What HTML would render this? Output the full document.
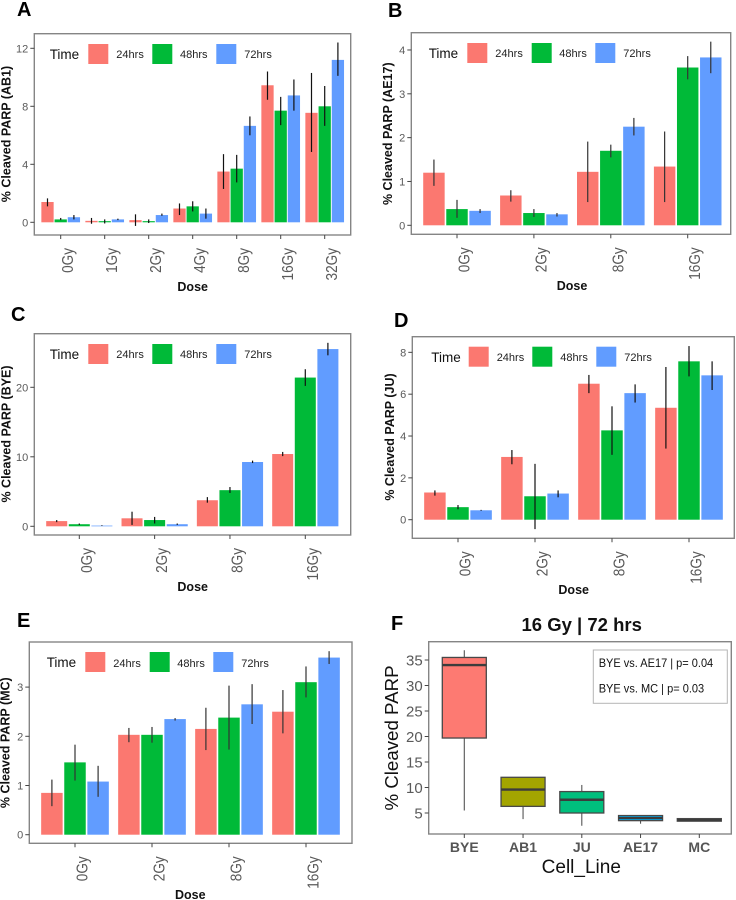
<!DOCTYPE html>
<html lang="en">
<head>
<meta charset="utf-8">
<title>Cleaved PARP by dose and time</title>
<style>
html,body{margin:0;padding:0;background:#fff}
svg{display:block}
text{font-family:"Liberation Sans",sans-serif}
.frame{fill:none;stroke:#858585;stroke-width:1.4}
.letter{font-size:20px;font-weight:700;fill:#000}
.ytitle,.xtitle{font-size:12.5px;font-weight:700;fill:#111}
.time{font-size:13.5px;fill:#111}
.lab{font-size:11px;fill:#222}
.note{font-size:12px;fill:#111}
</style>
</head>
<body>
<svg id="chart" xmlns="http://www.w3.org/2000/svg" width="736" height="900" viewBox="0 0 736 900">
  <rect width="736" height="900" fill="#fff"/>

  <g>
    <text class="letter" x="17" y="16">A</text>
    <rect class="frame" x="34.3" y="33.7" width="316.4" height="201.3"/>
    <text class="ytitle" text-anchor="middle" transform="translate(10.5,134) rotate(-90)">% Cleaved PARP (AB1)</text>
    <text class="xtitle" text-anchor="middle" x="192.7" y="291">Dose</text>
    <text class="time" x="49.7" y="59">Time</text>
    <rect x="88.3" y="44" width="20" height="20" fill="#FB7870"/>
    <text class="lab" x="116.3" y="58">24hrs</text>
    <rect x="152.3" y="44" width="20" height="20" fill="#00BA38"/>
    <text class="lab" x="180" y="58">48hrs</text>
    <rect x="216.3" y="44" width="20" height="20" fill="#619CFF"/>
    <text class="lab" x="244.3" y="58">72hrs</text>
  </g>

  <g>
    <text class="letter" x="388" y="17">B</text>
    <rect class="frame" x="411.3" y="32.7" width="319.4" height="201.6"/>
    <text class="ytitle" text-anchor="middle" transform="translate(392,133.7) rotate(-90)">% Cleaved PARP (AE17)</text>
    <text class="xtitle" text-anchor="middle" x="572" y="290">Dose</text>
    <text class="time" x="428.7" y="58">Time</text>
    <rect x="467.3" y="43" width="20" height="20" fill="#FB7870"/>
    <text class="lab" x="495.3" y="57">24hrs</text>
    <rect x="531.7" y="43" width="20" height="20" fill="#00BA38"/>
    <text class="lab" x="559.3" y="57">48hrs</text>
    <rect x="595.3" y="43" width="20" height="20" fill="#619CFF"/>
    <text class="lab" x="623.3" y="57">72hrs</text>
  </g>

  <g>
    <text class="letter" x="11" y="321">C</text>
    <rect class="frame" x="34.3" y="333.7" width="316.4" height="201.3"/>
    <text class="ytitle" text-anchor="middle" transform="translate(10.5,434) rotate(-90)">% Cleaved PARP (BYE)</text>
    <text class="xtitle" text-anchor="middle" x="192.7" y="591">Dose</text>
    <text class="time" x="49.7" y="359">Time</text>
    <rect x="88.3" y="344" width="20" height="20" fill="#FB7870"/>
    <text class="lab" x="116.3" y="358">24hrs</text>
    <rect x="152.3" y="344" width="20" height="20" fill="#00BA38"/>
    <text class="lab" x="180" y="358">48hrs</text>
    <rect x="216.3" y="344" width="20" height="20" fill="#619CFF"/>
    <text class="lab" x="244.3" y="358">72hrs</text>
  </g>

  <g>
    <text class="letter" x="394" y="327">D</text>
    <rect class="frame" x="412.3" y="336.7" width="322" height="201.6"/>
    <text class="ytitle" text-anchor="middle" transform="translate(394,437) rotate(-90)">% Cleaved PARP (JU)</text>
    <text class="xtitle" text-anchor="middle" x="573.7" y="594">Dose</text>
    <text class="time" x="431.3" y="362">Time</text>
    <rect x="468.7" y="346.7" width="20" height="20" fill="#FB7870"/>
    <text class="lab" x="496.7" y="361">24hrs</text>
    <rect x="532.3" y="346.7" width="20" height="20" fill="#00BA38"/>
    <text class="lab" x="560.3" y="361">48hrs</text>
    <rect x="596.3" y="346.7" width="20" height="20" fill="#619CFF"/>
    <text class="lab" x="624.3" y="361">72hrs</text>
  </g>

  <g>
    <text class="letter" x="17" y="627">E</text>
    <rect class="frame" x="29.3" y="642" width="322.7" height="201.3"/>
    <text class="ytitle" text-anchor="middle" transform="translate(9.5,742.7) rotate(-90)">% Cleaved PARP (MC)</text>
    <text class="xtitle" text-anchor="middle" x="190.3" y="899">Dose</text>
    <text class="time" x="46.7" y="667">Time</text>
    <rect x="85.3" y="652" width="20" height="20" fill="#FB7870"/>
    <text class="lab" x="113.3" y="667">24hrs</text>
    <rect x="149.7" y="652" width="20" height="20" fill="#00BA38"/>
    <text class="lab" x="177.3" y="667">48hrs</text>
    <rect x="213.3" y="652" width="20" height="20" fill="#619CFF"/>
    <text class="lab" x="241.3" y="667">72hrs</text>
  </g>

  <g>
    <text class="letter" x="391" y="630">F</text>
    <text text-anchor="middle" x="581.7" y="631" font-size="18.5" font-weight="700" fill="#111">16 Gy | 72 hrs</text>
    <rect class="frame" x="428.7" y="641.7" width="302.6" height="192.3"/>
    <text text-anchor="middle" font-size="18.7" fill="#111" transform="translate(398,738) rotate(-90)">% Cleaved PARP</text>
    <text text-anchor="middle" font-size="19" fill="#111" x="581.3" y="873">Cell_Line</text>
    <rect x="593.3" y="650" width="134" height="53.3" fill="#fff" stroke="#b5b5b5" stroke-width="1"/>
    <text class="note" x="598.7" y="667" textLength="114.5" lengthAdjust="spacingAndGlyphs">BYE vs. AE17 | p= 0.04</text>
    <text class="note" x="598.7" y="692.5" textLength="105.5" lengthAdjust="spacingAndGlyphs">BYE vs. MC | p= 0.03</text>
  </g>

  <g id="marks"></g>
</svg>

<script>
// ---- Panel A (AB1) ----
const dosesA = ["0Gy","1Gy","2Gy","4Gy","8Gy","16Gy","32Gy"];
const ticksA = [0,4,8,12];
const a24 = [1.4,0.1,0.15,0.95,3.5,9.45,7.55];
const a48 = [0.2,0.08,0.08,1.1,3.7,7.7,8.0];
const a72 = [0.35,0.2,0.5,0.6,6.65,8.75,11.2];
const a24Low = [1.1,-0.1,-0.25,0.5,2.3,8.45,4.85];
const a24High = [1.65,0.3,0.55,1.3,4.7,10.4,10.3];
const a48Low = [0.15,-0.08,-0.05,0.75,2.75,6.7,6.65];
const a48High = [0.3,0.2,0.2,1.45,4.65,8.65,9.4];
const a72Low = [0.2,0.15,0.45,0.25,6.0,7.7,10.1];
const a72High = [0.5,0.25,0.6,0.95,7.3,9.85,12.4];

// ---- Panel B (AE17) ----
const dosesB = ["0Gy","2Gy","8Gy","16Gy"];
const ticksB = [0,1,2,3,4];
const b24 = [1.2,0.68,1.22,1.34];
const b48 = [0.37,0.28,1.7,3.6];
const b72 = [0.33,0.25,2.25,3.83];
const b24Low = [0.9,0.54,0.53,0.53];
const b24High = [1.5,0.8,1.91,2.14];
const b48Low = [0.17,0.19,1.55,3.33];
const b48High = [0.58,0.37,1.84,3.86];
const b72Low = [0.28,0.2,2.05,3.47];
const b72High = [0.37,0.28,2.45,4.19];

// ---- Panel C (BYE) ----
const dosesC = ["0Gy","2Gy","8Gy","16Gy"];
const ticksC = [0,10,20];
const c24 = [0.75,1.15,3.75,10.4];
const c48 = [0.3,0.9,5.2,21.4];
const c72 = [0.1,0.3,9.25,25.5];
const c24Low = [0.6,0.2,3.4,10.1];
const c24High = [0.9,2.1,4.2,10.7];
const c48Low = [0.2,0.4,4.8,20.2];
const c48High = [0.4,1.35,5.65,22.6];
const c72Low = [0.05,0.2,9.1,24.6];
const c72High = [0.15,0.4,9.45,26.4];

// ---- Panel D (JU) ----
const dosesD = ["0Gy","2Gy","8Gy","16Gy"];
const ticksD = [0,2,4,6,8];
const d24 = [1.3,3.0,6.5,5.35];
const d48 = [0.6,1.12,4.27,7.57];
const d72 = [0.45,1.25,6.05,6.9];
const d24Low = [1.15,2.65,6.05,3.4];
const d24High = [1.4,3.33,6.92,7.3];
const d48Low = [0.5,-0.45,3.1,6.85];
const d48High = [0.7,2.67,5.42,8.3];
const d72Low = [0.43,1.07,5.6,6.2];
const d72High = [0.47,1.4,6.47,7.57];

// ---- Panel E (MC) ----
const dosesE = ["0Gy","2Gy","8Gy","16Gy"];
const ticksE = [0,1,2,3];
const e24 = [0.85,2.03,2.15,2.5];
const e48 = [1.47,2.03,2.38,3.1];
const e72 = [1.08,2.35,2.65,3.6];
const e24Low = [0.58,1.88,1.72,2.06];
const e24High = [1.12,2.17,2.58,2.94];
const e48Low = [1.1,1.87,1.73,2.79];
const e48High = [1.83,2.19,3.03,3.42];
const e72Low = [0.77,2.32,2.25,3.47];
const e72High = [1.4,2.37,3.06,3.73];

// ---- Panel F (box plot at 16 Gy, 72 hrs) ----
const cellLines = ["BYE","AB1","JU","AE17","MC"];
const ticksF = [5,10,15,20,25,30,35];
const boxLow = [5.5,3.8,2.5,2.9,3.4];
const boxQ1 = [19.7,6.3,5.0,3.5,3.4];
const boxMedian = [34,9.6,7.6,4.0,3.6];
const boxQ3 = [35.5,12,9.2,4.5,3.9];
const boxHigh = [36.9,12,10.5,4.5,3.9];

// ---- Layout and drawing ----
const NS = "http://www.w3.org/2000/svg";
const marks = document.getElementById("marks");
const seriesFill = ["#FB7870","#00BA38","#619CFF"];
const seriesName = ["24hrs","48hrs","72hrs"];
const boxFill = ["#FD7A72","#A3A500","#00BF7D","#00B0F6","#E76BF3"];

function make(tag, props, parent) {
  const n = document.createElementNS(NS, tag);
  for (const k in props) n.setAttribute(k, props[k]);
  (parent || marks).appendChild(n);
  return n;
}
function linear(zeroPx, pxPerUnit) {
  return function (v) { return zeroPx - v * pxPerUnit; };
}
function band(firstPx, step) {
  return function (i) { return firstPx + i * step; };
}
function drawYAxis(frameLeft, yScale, ticks, size, color) {
  ticks.forEach(function (t) {
    const tick = make("line", {x1: frameLeft - 4, x2: frameLeft, y1: yScale(t), y2: yScale(t), stroke: "#444", "stroke-width": 1});
    
    
    const label = make("text", {x: frameLeft - 6, y: yScale(t) + size * 0.36, "text-anchor": "end", "font-size": size, fill: color});
    label.textContent = t;
    
    
  });
}
function drawBarPanel(cfg, categories, ticks, s24, s48, s72, low24, high24, low48, high48, low72, high72) {
  const y = linear(cfg.zero, cfg.unit);
  const x = band(cfg.first, cfg.step);
  const dodge = cfg.step * 0.9 / 3;
  const values = [s24, s48, s72];
  const lows = [low24, low48, low72];
  const highs = [high24, high48, high72];
  drawYAxis(cfg.left, y, ticks, 11, "#5a5a5a");
  categories.forEach(function (cat, i) {
    const cx = x(i);
    const tick = make("line", {x1: cx, x2: cx, y1: cfg.bottom, y2: cfg.bottom + 4, stroke: "#444", "stroke-width": 1});
    
    
    const label = make("text", {"text-anchor": "end", "font-size": 16, fill: "#5a5a5a", transform: "translate(" + (cx + 12.5) + "," + (cfg.bottom + 13) + ") rotate(-90) scale(0.85,1)"});
    label.textContent = cat;
    
    
    for (let s = 0; s < 3; s++) {
      const c = cx + (s - 1) * dodge;
      const v = values[s][i];
      const top = Math.min(y(v), y(0));
      const bar = make("rect", {x: c - dodge * 0.465, y: top, width: dodge * 0.93, height: Math.abs(y(v) - y(0)), fill: seriesFill[s]});
      
      
    }
    for (let s = 0; s < 3; s++) {
      const c = cx + (s - 1) * dodge;
      const err = make("line", {x1: c, x2: c, y1: y(lows[s][i]), y2: y(highs[s][i]), stroke: cfg.err, "stroke-width": 1.2});
      
      
    }
  });
}

drawBarPanel({left: 34.3, bottom: 235, zero: 222.3, unit: 14.5, first: 60.7, step: 44, err: "#111"}, dosesA, ticksA, a24, a48, a72, a24Low, a24High, a48Low, a48High, a72Low, a72High);
drawBarPanel({left: 411.3, bottom: 234.3, zero: 225.3, unit: 43.83, first: 457, step: 76.9, err: "#333"}, dosesB, ticksB, b24, b48, b72, b24Low, b24High, b48Low, b48High, b72Low, b72High);
drawBarPanel({left: 34.3, bottom: 535, zero: 526.3, unit: 6.95, first: 79.3, step: 75.33, err: "#111"}, dosesC, ticksC, c24, c48, c72, c24Low, c24High, c48Low, c48High, c72Low, c72High);
drawBarPanel({left: 412.3, bottom: 538.3, zero: 519.7, unit: 20.92, first: 458, step: 77, err: "#111"}, dosesD, ticksD, d24, d48, d72, d24Low, d24High, d48Low, d48High, d72Low, d72High);
drawBarPanel({left: 29.3, bottom: 843.3, zero: 834.7, unit: 49.2, first: 75, step: 77, err: "#333"}, dosesE, ticksE, e24, e48, e72, e24Low, e24High, e48Low, e48High, e72Low, e72High);

(function drawBoxPanel() {
  const left = 428.7, bottom = 834;
  const y = linear(838.5, 5.1);
  const x = band(464.3, 58.75);
  const boxWidth = 44;
  drawYAxis(left, y, ticksF, 15, "#5a5a5a");
  cellLines.forEach(function (name, i) {
    const cx = x(i);
    const tick = make("line", {x1: cx, x2: cx, y1: bottom, y2: bottom + 4, stroke: "#444", "stroke-width": 1});
    
    
    const label = make("text", {x: cx, y: 852, "text-anchor": "middle", "font-size": 14, "font-weight": 700, fill: "#555"});
    label.textContent = name;
    
    
    const whisker = make("line", {x1: cx, x2: cx, y1: y(boxLow[i]), y2: y(boxHigh[i]), stroke: "#555", "stroke-width": 1.1});
    
    
    const box = make("rect", {x: cx - boxWidth / 2, y: y(boxQ3[i]), width: boxWidth, height: y(boxQ1[i]) - y(boxQ3[i]), fill: boxFill[i], stroke: "#484848", "stroke-width": 1.3});
    
    
    const median = make("line", {x1: cx - boxWidth / 2, x2: cx + boxWidth / 2, y1: y(boxMedian[i]), y2: y(boxMedian[i]), stroke: "#3c3c3c", "stroke-width": 2.4});
    
    
  });
})();
</script>
</body>
</html>
